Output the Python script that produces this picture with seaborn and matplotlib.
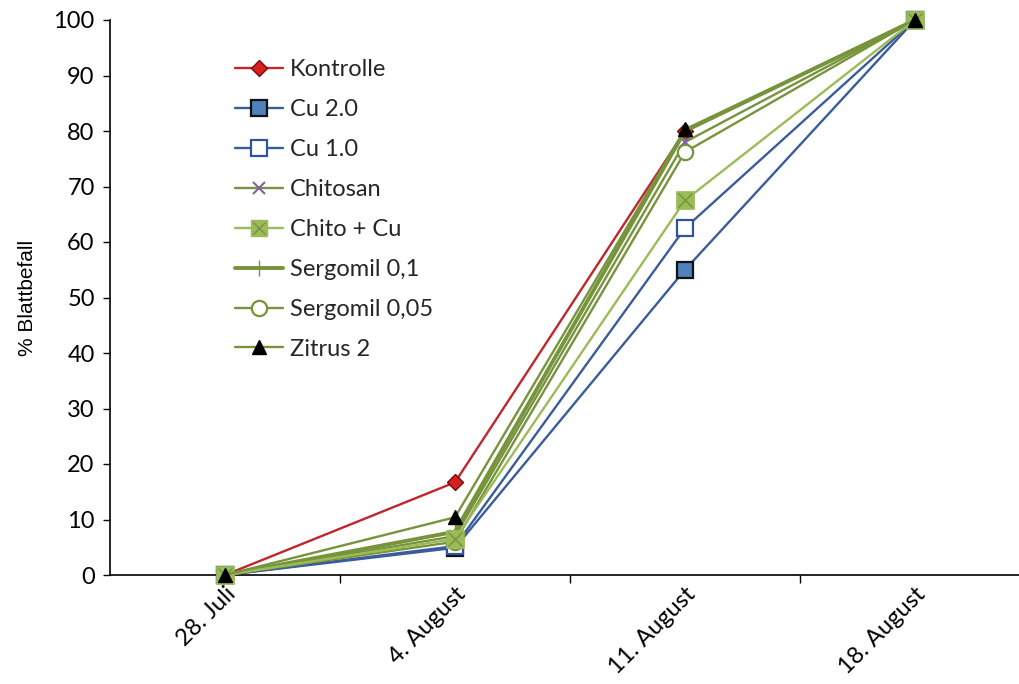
import matplotlib
matplotlib.use("Agg")
import matplotlib.pyplot as plt
import seaborn as sns
from matplotlib.lines import Line2D
from matplotlib.ticker import FixedLocator, MultipleLocator

sns.set_theme(style="white")
plt.rcParams["font.family"] = ["Lato", "DejaVu Sans"]

DATES = ["28. Juli", "4. August", "11. August", "18. August"]

kontrolle = [0, 16.7, 80.0, 100]
cu_20 = [0, 4.9, 55.0, 100]
cu_10 = [0, 5.2, 62.5, 100]
chitosan = [0, 7.0, 78.0, 100]
chito_cu = [0, 6.5, 67.5, 100]
sergomil_01 = [0, 7.8, 80.0, 100]
sergomil_005 = [0, 6.0, 76.2, 100]
zitrus_2 = [0, 10.4, 80.3, 100]

# label, values, line colour, line width, marker, marker size, face, edge, edge width, zorder
SERIES = [
    ("Kontrolle", kontrolle, "#C0262D", 1.7, "D", 8.5, "#D81E1E", "#7A0A0A", 1.0, 3),
    ("Cu 2.0", cu_20, "#3A5C9A", 1.7, "s", 11, "#4F81BD", "#111111", 1.6, 4),
    ("Cu 1.0", cu_10, "#3A5C9A", 1.7, "s", 11, "white", "#2F5597", 1.6, 5),
    ("Chitosan", chitosan, "#77933C", 1.7, "x", 8, "#8064A2", "#8064A2", 1.5, 6),
    ("Chito + Cu", chito_cu, "#9BBB59", 1.7, "X", 13, "#9BBB59", "#9BBB59", 0.5, 9),
    ("Sergomil 0,1", sergomil_01, "#77933C", 2.8, "|", 12, "#77933C", "#77933C", 1.0, 7),
    ("Sergomil 0,05", sergomil_005, "#77933C", 1.7, "o", 11, "white", "#77933C", 1.6, 8),
    ("Zitrus 2", zitrus_2, "#77933C", 1.7, "^", 10, "black", "black", 1.0, 10),
]

fig = plt.figure(figsize=(10.19, 6.84), dpi=100)
ax = fig.add_axes([110 / 1019, 1 - 575 / 684, 920 / 1019, 555 / 684])

for label, vals, lc, lw, mk, ms, fc, ec, mew, z in SERIES:
    if mk == "X":
        # square with a cross, like the Excel marker
        sns.lineplot(x=DATES, y=vals, ax=ax, color=lc, linewidth=lw, marker="s",
                     markersize=ms, markerfacecolor=fc, markeredgecolor=fc,
                     markeredgewidth=mew, zorder=z, sort=False, clip_on=False)
        sns.lineplot(x=DATES, y=vals, ax=ax, color=lc, linewidth=0, marker="x",
                     markersize=ms - 3, markeredgecolor="#77933C",
                     markeredgewidth=1.0, zorder=z, sort=False, clip_on=False)
        continue
    sns.lineplot(x=DATES, y=vals, ax=ax, color=lc, linewidth=lw, marker=mk,
                 markersize=ms, markerfacecolor=fc, markeredgecolor=ec,
                 markeredgewidth=mew, zorder=z, sort=False, clip_on=False)

ax.set_xlim(-0.5, 3.5)
ax.set_ylim(0, 100)
ax.yaxis.set_major_locator(MultipleLocator(10))
ax.set_ylabel("% Blattbefall", fontsize=15, color="black", labelpad=12,
              family=["Liberation Sans", "DejaVu Sans"])
ax.set_xlabel("")

ax.xaxis.set_minor_locator(FixedLocator([0.5, 1.5, 2.5]))
ax.tick_params(axis="x", which="major", length=0, pad=6, labelsize=17, labelcolor="black")
ax.tick_params(axis="x", which="minor", length=6, width=1, color="black", direction="out", bottom=True)
ax.tick_params(axis="y", which="major", length=5, width=1, color="black", direction="out",
               left=True, labelsize=17, labelcolor="black", pad=6)
for lab in ax.get_xticklabels():
    lab.set_rotation(45)
    lab.set_ha("right")
    lab.set_rotation_mode("anchor")

for side in ["top", "right"]:
    ax.spines[side].set_visible(False)
for side in ["left", "bottom"]:
    ax.spines[side].set_color("black")
    ax.spines[side].set_linewidth(1.2)

# legend, with a combined handle for Chito + Cu
handles = []
labels = []
for label, vals, lc, lw, mk, ms, fc, ec, mew, z in SERIES:
    if mk == "X":
        h = (Line2D([], [], color=lc, linewidth=lw, marker="s", markersize=ms - 1,
                    markerfacecolor=fc, markeredgecolor=fc),
             Line2D([], [], linewidth=0, marker="x", markersize=ms - 4,
                    markeredgecolor="#77933C", markeredgewidth=1.0))
    else:
        h = Line2D([], [], color=lc, linewidth=lw, marker=mk, markersize=ms,
                   markerfacecolor=fc, markeredgecolor=ec, markeredgewidth=mew)
    handles.append(h)
    labels.append(label)
ax.legend(handles, labels, loc="upper left", bbox_to_anchor=(226 / 1019, 1 - 50 / 684),
          bbox_transform=fig.transFigure, frameon=False, fontsize=17,
          handlelength=2.0, handletextpad=0.3, labelspacing=0.8, borderaxespad=0)

fig.savefig("out.png", dpi=100)
